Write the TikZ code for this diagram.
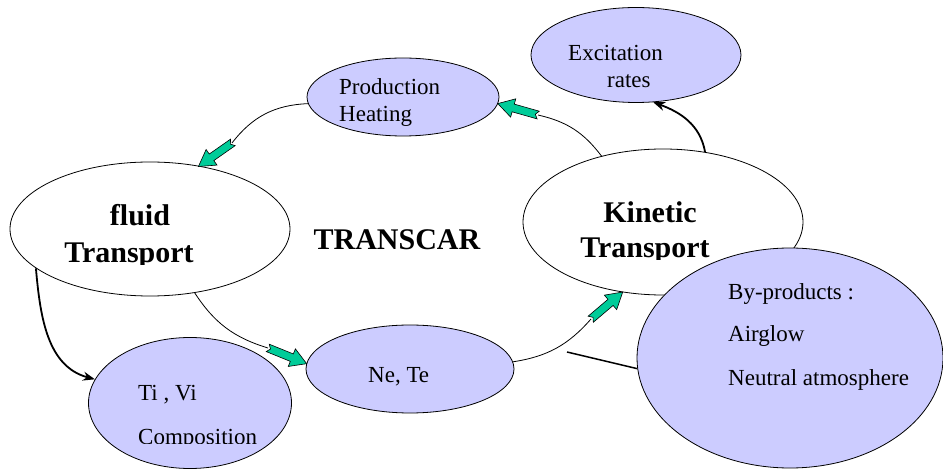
\documentclass[tikz,border=0pt]{standalone}
\usepackage{fontspec}
\setmainfont{Liberation Serif}
\usetikzlibrary{shapes.geometric,arrows.meta}
\definecolor{bubblefill}{HTML}{CCCCFF}
\definecolor{pushgreen}{HTML}{00CC99}
\tikzset{
	core/.style={ellipse, draw, line width=0.8pt, fill=white, inner sep=0pt},
	bubble/.style={ellipse, draw, line width=0.8pt, fill=bubblefill, inner sep=0pt},
	txt/.style={font=\fontsize{23}{27}\selectfont, inner sep=0pt, anchor=base west},
	bigtxt/.style={font=\bfseries\fontsize{30}{34}\selectfont, inner sep=0pt, anchor=base},
	loopline/.style={line width=0.8pt},
	feed/.style={line width=1.8pt, -{Stealth[length=12pt,width=9pt]}},
	% block arrow, tail at -21, tip at +21
	push/.pic={
		\draw[fill=pushgreen, line width=0.6pt, line join=miter]
			(-21,-4) -- (5,-4) -- (5,-9.5) -- (21,0) -- (5,9.5) -- (5,4) -- (-21,4) -- (-18,0) -- cycle;
	}
}

\begin{document}
\begin{tikzpicture}[x=1pt, y=1pt]
	\useasboundingbox (0,0) rectangle (943,-470);
	\clip (0,0) rectangle (943,-470);

	%%%%% ELLIPSES %%%%%
	\node[core, minimum width=280pt, minimum height=134pt] (fluid) at (150,-229) {};
	\node[core, minimum width=280pt, minimum height=146pt] (kin) at (663,-222) {};
	\node[bubble, minimum width=192pt, minimum height=78pt] (prod) at (403,-97) {};
	\node[bubble, minimum width=208pt, minimum height=88pt] (nete) at (410,-369) {};
	\node[bubble, minimum width=210pt, minimum height=95pt] (exc) at (636,-55) {};
	\node[bubble, minimum width=203pt, minimum height=131pt] (tivi) at (190,-403) {};
	\node[bubble, minimum width=306pt, minimum height=220pt] (byprod) at (790,-358) {};

	%%%%% TEXT %%%%%
	\node[bigtxt] (fluidA) at (140,-226) {fluid};
	\begin{scope}
		\clip (0,-100) rectangle (300,-265);
		\node[bigtxt] (fluidB) at (129,-263) {Transport};
	\end{scope}
	\node[bigtxt] (loopname) at (397,-250) {TRANSCAR};
	\node[bigtxt] (kinA) at (650,-223) {Kinetic};
	\begin{scope}
		\clip (540,-100) rectangle (760,-260);
		\node[bigtxt] (kinB) at (645,-258) {Transport};
	\end{scope}

	\node[txt] (prodA) at (339,-95) {Production};
	\node[txt] (prodB) at (339,-122) {Heating};
	\node[txt] (excA) at (568,-61) {Excitation};
	\node[txt] (excB) at (607,-88) {rates};
	\node[txt] (neteA) at (368,-383) {Ne, Te};
	\node[txt] (tiviA) at (138,-400) {Ti , Vi};
	\begin{scope}
		\clip (100,-410) rectangle (290,-443);
		\node[txt] (tiviB) at (138,-444) {Composition};
	\end{scope}
	\node[txt] (byA) at (728,-300) {By-products :};
	\node[txt] (byB) at (728,-342) {Airglow};
	\node[txt] (byC) at (728,-385) {Neutral atmosphere};

	%%%%% LOOP %%%%%
	\coordinate (p1) at (232,-143);
	\coordinate (p2) at (538,-115);
	\coordinate (p3) at (268,-348);
	\coordinate (p4) at (591,-319);

	\draw[loopline] (prod.184) to[bend right=25] (p1);
	\path (p1) -- pic[sloped, allow upside down] {push} (fluid.52);

	\draw[loopline] (fluid.305) to[bend right=20] (p3);
	\path (p3) -- pic[sloped, allow upside down] {push} (nete.177);

	\draw[loopline] (nete.4) to[bend right=20] (p4);
	\path (p4) -- pic[sloped, allow upside down] {push} (kin.240);

	\draw[loopline] (kin.133) to[bend right=20] (p2);
	\path (p2) -- pic[sloped, allow upside down] {push} (prod.-4);

	%%%%% OUTPUTS %%%%%
	\draw[feed] (fluid.199) to[out=-85, in=165] (tivi.166);
	\draw[feed] (kin.59) to[out=100, in=-20] (exc.290);

	\coordinate (tie) at (567,-352);
	\draw[line width=1.5pt] (tie) -- (byprod.184);
\end{tikzpicture}
\end{document}
